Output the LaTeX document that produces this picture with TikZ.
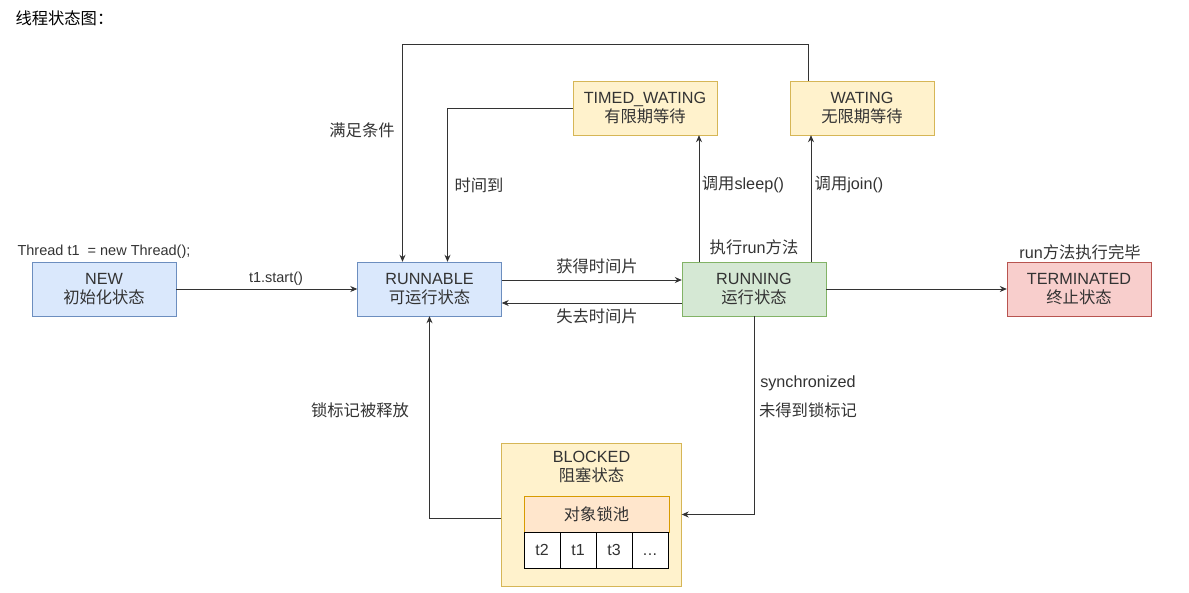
\documentclass[tikz,border=0pt]{standalone}
\usepackage{fontspec}
\setmainfont{Liberation Sans}
\newfontfamily\zhfont{Noto Sans CJK SC}
\newcommand{\zh}{\zhfont\fontsize{16.3}{19}\selectfont}
\usetikzlibrary{arrows.meta,positioning}
\definecolor{bluefill}{HTML}{DAE8FC}
\definecolor{bluedraw}{HTML}{6C8EBF}
\definecolor{greenfill}{HTML}{D5E8D4}
\definecolor{greendraw}{HTML}{82B366}
\definecolor{redfill}{HTML}{F8CECC}
\definecolor{reddraw}{HTML}{B85450}
\definecolor{yellowfill}{HTML}{FFF2CC}
\definecolor{yellowdraw}{HTML}{D6B656}
\definecolor{orangefill}{HTML}{FFE6CC}
\definecolor{orangedraw}{HTML}{D79B00}
\definecolor{txt}{HTML}{333333}
\tikzset{
  state/.style={draw, minimum width=144pt, minimum height=54pt, inner sep=0pt,
    align=center, text=txt, font=\fontsize{16.2}{19}\selectfont},
  newstate/.style={state, fill=bluefill, draw=bluedraw},
  runstate/.style={state, fill=greenfill, draw=greendraw},
  endstate/.style={state, fill=redfill, draw=reddraw},
  waitstate/.style={state, fill=yellowfill, draw=yellowdraw},
  lbl/.style={text=txt, inner sep=1pt, font=\fontsize{16.2}{19}\selectfont},
  smalllbl/.style={lbl, font=\fontsize{14.5}{19}\selectfont},
  cell/.style={draw=black, fill=white, minimum size=36pt, inner sep=0pt,
    text height=11.5pt, text depth=0pt,
    text=txt, font=\fontsize{16}{19}\selectfont},
  edge/.style={draw=black!80, line width=0.8pt}
}
\begin{document}
\begin{tikzpicture}[x=1pt, y=-1pt, >={Stealth[length=7pt,width=6pt]}]
	\useasboundingbox (0,0) rectangle (1189,592);
	\node[anchor=west, text=black] (title) at (12,18) {{\zh 线程状态图：}};
	% states
	\node[newstate] (new) at (104,289) {NEW\\{\zh 初始化状态}};
	\node[newstate] (runnable) at (429.5,289) {RUNNABLE\\{\zh 可运行状态}};
	\node[runstate] (running) at (754,289) {RUNNING\\{\zh 运行状态}};
	\node[endstate] (terminated) at (1079,289) {TERMINATED\\{\zh 终止状态}};
	\node[waitstate] (timed) at (645,108) {TIMED\_WATING\\{\zh 有限期等待}};
	\node[waitstate] (waiting) at (862,108) {WATING\\{\zh 无限期等待}};
	\node[waitstate, minimum width=180pt, minimum height=143pt] (blocked) at (591.5,514.5) {};
	\node[align=center, text=txt, font=\fontsize{16.2}{19}\selectfont] (blockedtext) at (591.5,467) {BLOCKED\\{\zh 阻塞状态}};
	\node[state, fill=orangefill, draw=orangedraw, minimum width=145pt, minimum height=36pt] (pool) at (596.5,514) {{\zh 对象锁池}};
	\foreach \t [count=\i] in {t2,t1,t3,{.\kern.5pt.\kern.5pt.}}
		\node[cell] (cell\i) at (506+36*\i,550) {\t};
	% labels
	\node[smalllbl] (init) at (104,252) {Thread t1\ \ = new Thread();};
	\node[smalllbl] (start) at (276,279) {t1.start()};
	\node[lbl] (gain) at (597,266) {{\zh 获得时间片}};
	\node[lbl] (lose) at (597,316) {{\zh 失去时间片}};
	\node[lbl] (runmethod) at (754,247) {{\zh 执行}run{\zh 方法}};
	\node[lbl] (finished) at (1080,252) {run{\zh 方法执行完毕}};
	\node[lbl] (sleep) at (743,185) {{\zh 调用}sleep()};
	\node[lbl] (join) at (849,185) {{\zh 调用}join()};
	\node[lbl] (timeout) at (479,185) {{\zh 时间到}};
	\node[lbl] (notify) at (362,130) {{\zh 满足条件}};
	\node[lbl] (sync) at (808,383) {synchronized};
	\node[lbl] (nolock) at (808,410) {{\zh 未得到锁标记}};
	\node[lbl] (release) at (360,410) {{\zh 锁标记被释放}};
	% transitions
	\draw[edge, ->] (new.east) -- (runnable.west);
	\draw[edge, ->] ([yshift=9pt]runnable.east) -- ([yshift=9pt]running.west);
	\draw[edge, ->] ([yshift=-14pt]running.west) -- ([yshift=-14pt]runnable.east);
	\draw[edge, ->] (running.east) -- (terminated.west);
	\draw[edge, ->] ([xshift=-55pt]running.north) -- ([xshift=-55pt]running.north |- timed.south);
	\draw[edge, ->] ([xshift=57pt]running.north) -- ([xshift=57pt]running.north |- waiting.south);
	\draw[edge, ->] (timed.west) -| ([xshift=18pt]runnable.north);
	\draw[edge, ->] ([xshift=-54pt]waiting.north) -- ++(0,-36) -| ([xshift=-27pt]runnable.north);
	\draw[edge, ->] (running.south) |- (blocked.east);
	\draw[edge, ->] ([yshift=-4pt]blocked.west) -| (runnable.south);
\end{tikzpicture}
\end{document}
